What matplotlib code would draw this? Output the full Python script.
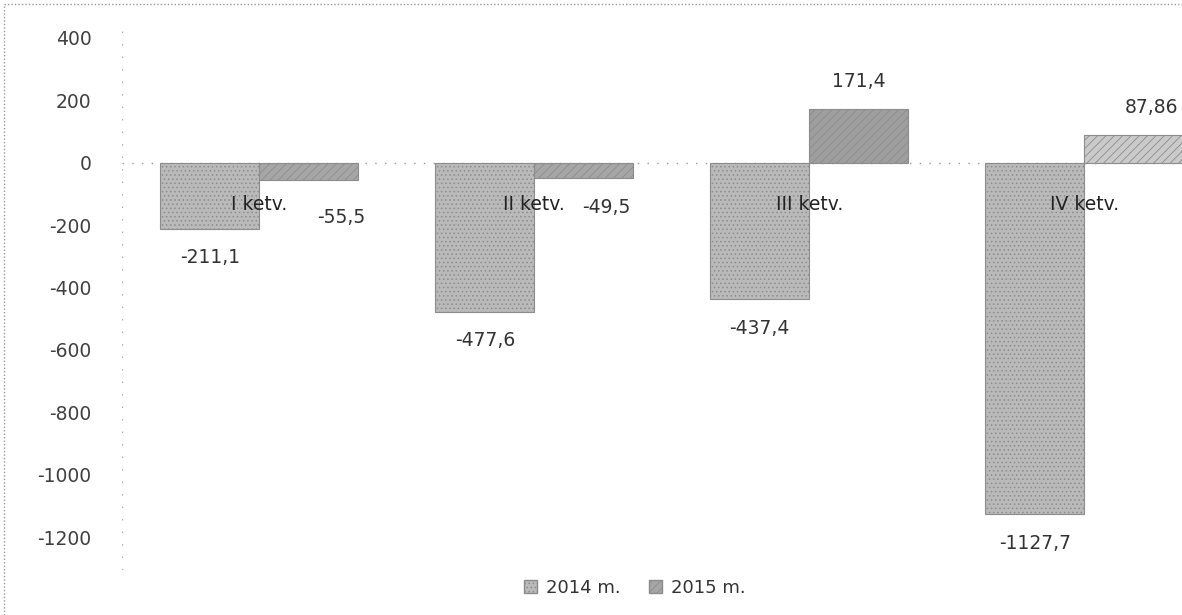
import matplotlib
matplotlib.use("Agg")
import matplotlib.pyplot as plt
from matplotlib.patches import Patch
import numpy as np

categories = ["I ketv.", "II ketv.", "III ketv.", "IV ketv."]
series_names = ["2014 m.", "2015 m."]
values_2014 = [-211.1, -477.6, -437.4, -1127.7]
values_2015 = [-55.5, -49.5, 171.4, 87.86]
labels_2014 = ["-211,1", "-477,6", "-437,4", "-1127,7"]
labels_2015 = ["-55,5", "-49,5", "171,4", "87,86"]
yticks = [400, 200, 0, -200, -400, -600, -800, -1000, -1200]

# styling
color_2014 = "#bababa"
colors_2015 = ["#a6a6a6", "#a6a6a6", "#9e9e9e", "#cacaca"]
off_2015 = [(23, -27), (16, -21), (0, 20), (13, 20)]  # points
FS = 13.5

plt.rcParams['font.family'] = ['DejaVu Sans']
plt.rcParams['hatch.color'] = '#8a8a8a'
plt.rcParams['hatch.linewidth'] = 0.6

W, H = 1182, 615
fig = plt.figure(figsize=(W / 100, H / 100), dpi=100)
ax = fig.add_axes([122 / W, 1 - 570 / H, (W - 122) / W, 550 / H])

x = np.arange(len(categories))
bw = 0.36
ax.bar(x - bw / 2, values_2014, width=bw, color=color_2014,
       edgecolor="#8c8c8c", linewidth=0.8, hatch="....", zorder=3)
ax.bar(x + bw / 2, values_2015, width=bw, color=colors_2015,
       edgecolor="#8c8c8c", linewidth=0.8, hatch="////", zorder=3)

ax.set_xlim(-0.5, 3.356)
ax.set_ylim(-1305.8, 457.7)

ax.axhline(0, color="#9a9a9a", linestyle=(0, (1, 6)), linewidth=1.0, zorder=1)
for s in ax.spines.values():
    s.set_visible(False)
ax.axvline(-0.5, color="#aaaaaa", linestyle=(0, (1, 8)), linewidth=1.0, zorder=1)

ax.set_xticks([])
ax.set_yticks(yticks)
ax.set_yticklabels([str(v) for v in yticks])
ax.tick_params(axis="y", length=0, pad=22, labelsize=FS, labelcolor="#404040")

for xi, v, lab in zip(x, values_2014, labels_2014):
    ax.annotate(lab, (xi - bw / 2, v), xytext=(0, -21), textcoords="offset points",
                ha="center", va="center", fontsize=FS, color="#333333", zorder=5)
for xi, v, lab, off in zip(x, values_2015, labels_2015, off_2015):
    ax.annotate(lab, (xi + bw / 2, v), xytext=off, textcoords="offset points",
                ha="center", va="center", fontsize=FS, color="#333333", zorder=5,
                annotation_clip=False)

for xi, cat in zip(x, categories):
    ax.text(xi, -134, cat, ha="center", va="center", fontsize=FS,
            color="#222222", zorder=6)

handles = [Patch(facecolor=color_2014, edgecolor="#8c8c8c", hatch="...."),
           Patch(facecolor=colors_2015[0], edgecolor="#8c8c8c", hatch="////")]
fig.legend(handles, series_names, loc="center", bbox_to_anchor=(635 / W, 1 - 588 / H),
           ncol=2, frameon=False, fontsize=13, handlelength=0.7, handleheight=0.7,
           handletextpad=0.5, columnspacing=1.6, labelcolor="#333333")

# outer dotted frame (left and top)
fig.add_artist(plt.Line2D([4 / W, 4 / W], [0, 1 - 4 / H], transform=fig.transFigure,
                          color="#999999", linestyle=(0, (1, 1.5)), linewidth=1.0))
fig.add_artist(plt.Line2D([4 / W, 1], [1 - 4 / H, 1 - 4 / H], transform=fig.transFigure,
                          color="#999999", linestyle=(0, (1, 1.5)), linewidth=1.0))

fig.savefig("out.png", dpi=100)
